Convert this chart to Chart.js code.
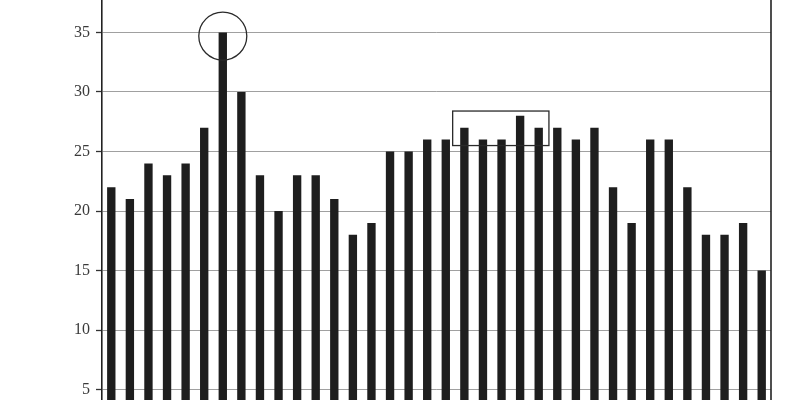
<!DOCTYPE html>
<html>
<head>
<meta charset="utf-8">
<script src="https://cdn.jsdelivr.net/npm/chart.js@4/dist/chart.umd.min.js"></script>
<style>
  html, body { margin: 0; padding: 0; background: #fff; }
  #wrap { width: 800px; height: 400px; }
</style>
</head>
<body>
<div id="wrap"><canvas id="c" width="800" height="400"></canvas></div>
<script>
const categories = ['1','2','3','4','5','6','7','8','9','10','11','12','13','14','15','16','17','18',
                    '19','20','21','22','23','24','25','26','27','28','29','30','31','32','33','34','35','36'];
const values = [22, 21, 24, 23, 24, 27, 35, 30, 23, 20, 23, 23, 21, 18, 19, 25, 25, 26,
                26, 27, 26, 26, 28, 27, 27, 26, 27, 22, 19, 26, 26, 22, 18, 18, 19, 15];
const yTicks = [5, 10, 15, 20, 25, 30, 35];
const yMin = 4.12;
const yMax = 37.73;
// annotations: circle around peak bar, rectangle around a run of bars
const circleMark = { index: 6, value: 34.7, radius: 24 };
const boxMark = { fromIndex: 18.37, toIndex: 23.55, low: 25.5, high: 28.4 };

const annotate = {
  id: 'annotate',
  afterDatasetsDraw(chart) {
    const { ctx, scales: { x, y }, chartArea } = chart;
    ctx.save();
    ctx.strokeStyle = '#2a2a2a';
    ctx.lineWidth = 1.3;
    ctx.beginPath();
    ctx.arc(x.getPixelForValue(circleMark.index), y.getPixelForValue(circleMark.value), circleMark.radius, 0, Math.PI * 2);
    ctx.stroke();
    const x0 = x.getPixelForValue(boxMark.fromIndex), x1 = x.getPixelForValue(boxMark.toIndex);
    const y0 = y.getPixelForValue(boxMark.high), y1 = y.getPixelForValue(boxMark.low);
    ctx.strokeRect(x0, y0, x1 - x0, y1 - y0);
    ctx.strokeStyle = '#222';
    ctx.lineWidth = 1.6;
    ctx.beginPath();
    ctx.moveTo(chartArea.right, 0);
    ctx.lineTo(chartArea.right, chart.height);
    ctx.stroke();
    ctx.restore();
  }
};

new Chart(document.getElementById('c'), {
  type: 'bar',
  data: {
    labels: categories,
    datasets: [{
      data: values,
      backgroundColor: '#1e1e1e',
      borderWidth: 0,
      barPercentage: 0.45,
      categoryPercentage: 1.0
    }]
  },
  options: {
    responsive: false,
    animation: false,
    layout: { padding: { left: 0, right: 29, top: 0, bottom: 0 } },
    plugins: { legend: { display: false }, tooltip: { enabled: false } },
    scales: {
      x: { display: false },
      y: {
        min: yMin,
        max: yMax,
        afterBuildTicks(scale) { scale.ticks = yTicks.map(v => ({ value: v })); },
        afterFit(scale) { scale.width = 102; scale.paddingTop = 0; scale.paddingBottom = 0; },
        ticks: {
          color: '#3a3a3a',
          padding: 6,
          font: { family: '"Liberation Serif", "DejaVu Serif", serif', size: 16 }
        },
        grid: {
          color: '#a0a0a0',
          lineWidth: 1,
          drawTicks: true,
          tickLength: 6,
          tickColor: '#333',
          tickWidth: 1.3
        },
        border: { display: true, color: '#222', width: 1.6 }
      }
    }
  },
  plugins: [annotate]
});
</script>
</body>
</html>
